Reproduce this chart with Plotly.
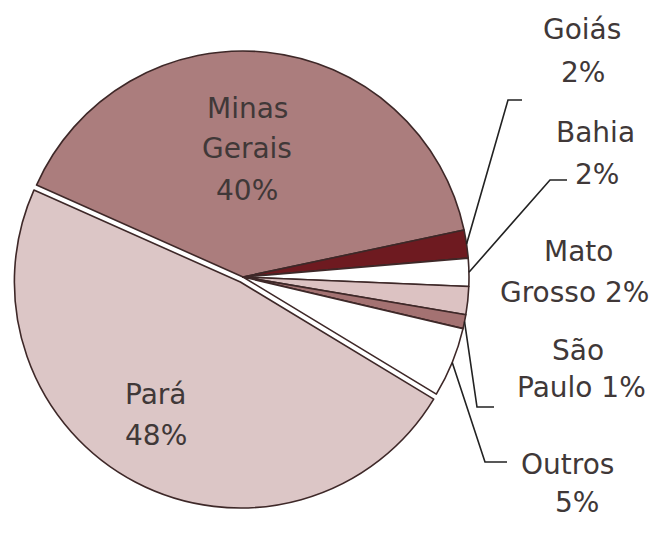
import math
import plotly.graph_objects as go

labels = ["Minas Gerais", "Goiás", "Bahia", "Mato Grosso", "São Paulo", "Outros", "Pará"]
values = [40, 2, 2, 2, 1, 5, 48]
colors = ["#ab7d7d", "#6e1a20", "#ffffff", "#dcc2c2", "#a47272", "#ffffff", "#dcc6c6"]
pulls = [0, 0, 0, 0, 0, 0, 0.025]

label_lines = {
    "Minas Gerais": ["Minas", "Gerais", "40%"],
    "Pará": ["Pará", "48%"],
    "Goiás": ["Goiás", "2%"],
    "Bahia": ["Bahia", "2%"],
    "Mato Grosso": ["Mato", "Grosso 2%"],
    "São Paulo": ["São", "Paulo 1%"],
    "Outros": ["Outros", "5%"],
}

W, H = 662, 538
cx, cy, R = 243, 277, 226
start_deg = 156  # math angle where first slice begins
maxpull = max(pulls)
half = R * (1 + maxpull)

fig = go.Figure(go.Pie(
    labels=labels, values=values, sort=False, direction="clockwise",
    rotation=90 - start_deg,
    marker=dict(colors=colors, line=dict(color="#3e2828", width=1.6)),
    pull=pulls, textinfo="none", hoverinfo="label+percent",
    domain=dict(x=[(cx - half) / W, (cx + half) / W],
                y=[(H - cy - half) / H, (H - cy + half) / H]),
    showlegend=False,
))

def px(x, y):
    return x / W, 1 - y / H

# slice mid angles
total = sum(values)
mids = {}
a = start_deg
for lab, v in zip(labels, values):
    span = 360 * v / total
    mids[lab] = a - span / 2
    a -= span

font = dict(family="DejaVu Sans", size=28, color="#403838")
annotations = []
# per-line label anchor positions (x, y of each line)
line_pos = {
    "Minas Gerais": [(247, 109), (247, 149), (247, 190)],
    "Pará": [(155, 394), (156, 436)],
    "Goiás": [(582, 30), (583, 72)],
    "Bahia": [(595, 132), (597, 174)],
    "Mato Grosso": [(578, 252), (574, 292)],
    "São Paulo": [(578, 350), (581, 387)],
    "Outros": [(567, 464), (577, 502)],
}
for lab, lines in label_lines.items():
    for txt, pos in zip(lines, line_pos[lab]):
        x, y = px(*pos)
        annotations.append(dict(x=x, y=y, xref="paper", yref="paper", text=txt,
                                xanchor="center", yanchor="middle",
                                showarrow=False, font=font, align="center"))

# leader lines: start at slice edge, elbow, horizontal tail
leaders = {"Goiás": ((508, 100), (522, 100)), "Bahia": ((550, 180), (567, 180)),
           "São Paulo": ((477, 407), (494, 407)), "Outros": ((485, 462), (507, 462))}
shapes = []
for lab, (elbow, tail) in leaders.items():
    ang = math.radians(mids[lab])
    sx, sy = cx + R * math.cos(ang), cy - R * math.sin(ang)
    pts = [px(sx, sy), px(*elbow), px(*tail)]
    path = "M {} {} L {} {} L {} {}".format(pts[0][0], pts[0][1], pts[1][0], pts[1][1], pts[2][0], pts[2][1])
    shapes.append(dict(type="path", xref="paper", yref="paper", path=path,
                       line=dict(color="#222222", width=1.6)))

fig.update_layout(width=W, height=H, margin=dict(l=0, r=0, t=0, b=0),
                  paper_bgcolor="white", plot_bgcolor="white",
                  annotations=annotations, shapes=shapes)
fig.write_html("out.html")
